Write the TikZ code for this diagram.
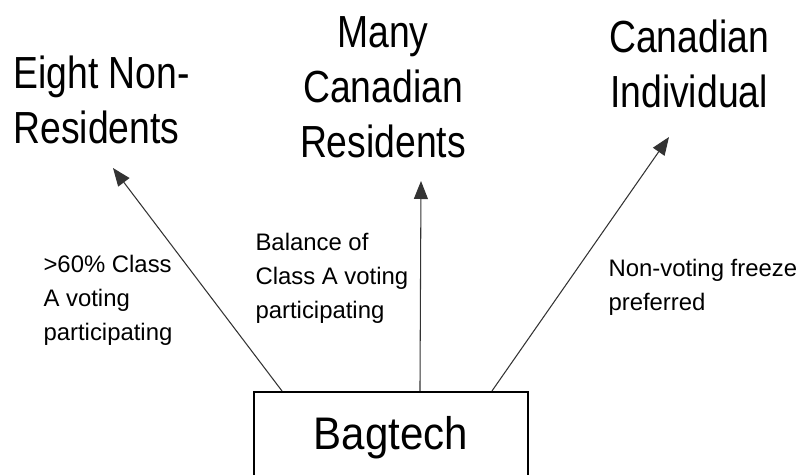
\documentclass[tikz,border=0pt]{standalone}
\usepackage{fontspec}
\setmainfont{Liberation Sans}
\newfontfamily\wideheadfont[FakeStretch=0.83]{Liberation Sans}
\newfontfamily\boxheadfont[FakeStretch=0.92]{Liberation Sans}
\usepackage{tikz}
\usetikzlibrary{arrows.meta}
\usepackage{xcolor}

\begin{document}
\begin{tikzpicture}[x=0.02cm,y=-0.02cm,->,>={Triangle[length=0.36cm,width=0.28cm]},
  line width=0.6pt,
  owner/.style={inner sep=0pt,
    font=\wideheadfont\fontsize{25.6pt}{31.3pt}\selectfont},
  share/.style={inner sep=0pt,align=left,
    font=\fontsize{13.6pt}{19.3pt}\selectfont},
  corp/.style={rectangle,draw,line width=1.2pt,minimum width=5.48cm,
    minimum height=1.84cm,font=\boxheadfont\fontsize{26pt}{31pt}\selectfont}]

  \useasboundingbox (0,0) rectangle (798,474);
  \clip (0,0) rectangle (798,474);

  \node[corp] (Bag) at (391,438) {Bagtech};

  % anchors sit on the last line
  \node[owner,align=left,anchor=base west] (NonRes) at (13,143) {Eight Non-\\Residents};
  \node[owner,align=center,anchor=base] (CanRes) at (383,157) {Many\\Canadian\\Residents};
  \node[owner,align=center,anchor=base] (CanInd) at (689,107) {Canadian\\Individual};

  \node[share,anchor=base west] (NonResL) at (43,340) {>60\% Class\\A voting\\participating};
  \node[share,anchor=base west] (CanResL) at (255,318) {Balance of\\Class A voting\\participating};
  \node[share,anchor=base west] (CanIndL) at (608,310) {Non-voting freeze\\preferred};

  % arrow ends
  \path (Bag.north west) ++(29,0) coordinate (fromNonRes);
  \path (Bag.north west) ++(167,0) coordinate (fromCanRes);
  \path (Bag.north west) ++(239,0) coordinate (fromCanInd);
  \coordinate (toNonRes) at (113,168);
  \coordinate (toCanRes) at (421,181);
  \coordinate (toCanInd) at (669,137);

  \path[color=black!80]
  (fromNonRes) edge (toNonRes)
  (fromCanRes) edge (toCanRes)
  (fromCanInd) edge (toCanInd)
  ;
\end{tikzpicture}
\end{document}
